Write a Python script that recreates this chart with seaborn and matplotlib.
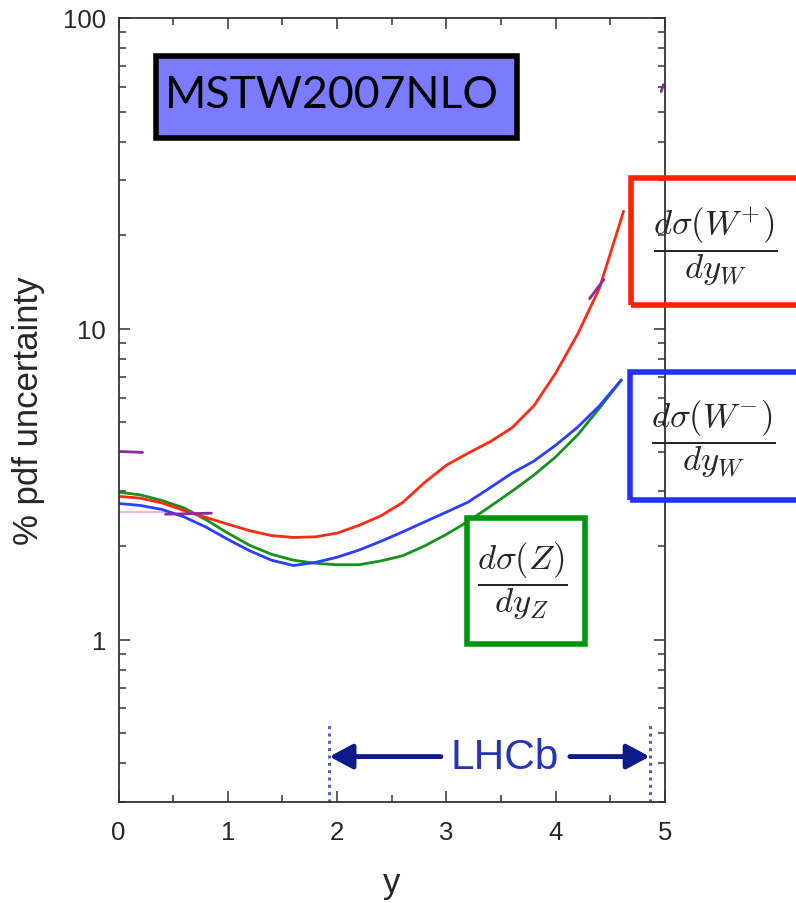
import numpy as np
import pandas as pd
import matplotlib
matplotlib.use("Agg")
import matplotlib.pyplot as plt
from matplotlib.patches import Rectangle
from matplotlib.ticker import FixedLocator, LogLocator, NullFormatter
import seaborn as sns

# Rapidity grid and percentage PDF uncertainties (MSTW2007 NLO)
y_grid = [0.0, 0.2, 0.4, 0.6, 0.8, 1.0, 1.2, 1.4, 1.6, 1.8, 2.0, 2.2,
          2.4, 2.6, 2.8, 3.0, 3.2, 3.4, 3.6, 3.8, 4.0, 4.2, 4.4, 4.6]
w_plus = [2.89, 2.85, 2.75, 2.60, 2.47, 2.35, 2.24, 2.16, 2.13, 2.14, 2.20, 2.33,
          2.50, 2.76, 3.20, 3.64, 3.98, 4.33, 4.80, 5.65, 7.20, 9.60, 13.5, 22.6]
w_minus = [2.74, 2.70, 2.62, 2.48, 2.30, 2.10, 1.93, 1.80, 1.73, 1.77, 1.84, 1.94,
           2.07, 2.22, 2.39, 2.57, 2.77, 3.08, 3.43, 3.75, 4.22, 4.82, 5.65, 6.84]
z_boson = [2.98, 2.92, 2.80, 2.65, 2.43, 2.20, 2.01, 1.88, 1.80, 1.76, 1.74, 1.74,
           1.79, 1.86, 2.00, 2.18, 2.40, 2.68, 3.00, 3.38, 3.87, 4.55, 5.55, 6.84]

# Short leftover traces of an earlier overlay
stray_x = [[0.0, 0.22], [0.43, 0.85], [4.31, 4.44], [4.965, 4.985]]
stray_v = [[4.03, 4.00], [2.53, 2.55], [12.5, 14.4], [58.0, 61.0]]
pale_x = [0.0, 0.47]
pale_v = [2.57, 2.57]

# LHCb acceptance
lhcb_lo, lhcb_hi = 1.93, 4.86
lhcb_level = 0.42

W, H = 796, 904
sns.set_style("ticks")
plt.rcParams["font.family"] = ["Liberation Sans", "DejaVu Sans"]
plt.rcParams["mathtext.fontset"] = "cm"

fig = plt.figure(figsize=(W / 100, H / 100), dpi=100)
ax = fig.add_axes([118.5 / W, 1 - 803 / H, (665 - 118.5) / W, (803 - 19) / H])

df = pd.DataFrame({
    "y": y_grid * 3,
    "unc": w_plus + w_minus + z_boson,
    "process": ["W+"] * len(y_grid) + ["W-"] * len(y_grid) + ["Z"] * len(y_grid),
})
palette = {"W+": "#ff2a14", "W-": "#2b3dff", "Z": "#17901c"}

sns.lineplot(data=pd.DataFrame({"y": pale_x, "unc": pale_v}), x="y", y="unc",
             ax=ax, color="#e6b8e6", lw=1.6)
sns.lineplot(data=df, x="y", y="unc", hue="process", palette=palette,
             hue_order=["Z", "W-", "W+"], ax=ax, lw=2.0, legend=False)
for sx, sv in zip(stray_x, stray_v):
    sns.lineplot(x=sx, y=sv, ax=ax, color="#8e2a9e", lw=2.0)
# the red curve extends a little past the grid
sns.lineplot(x=[4.6, 4.62], y=[22.6, 23.9], ax=ax, color=palette["W+"], lw=2.0)

ax.set_yscale("log")
ax.set_xlim(0, 5)
ax.set_ylim(0.3, 100)
ax.xaxis.set_major_locator(FixedLocator([0, 1, 2, 3, 4, 5]))
ax.xaxis.set_minor_locator(FixedLocator([0.5, 1.5, 2.5, 3.5, 4.5]))
ax.yaxis.set_major_locator(FixedLocator([1, 10, 100]))
ax.yaxis.set_minor_locator(LogLocator(base=10, subs=np.arange(2, 10)))
ax.yaxis.set_minor_formatter(NullFormatter())
ax.set_yticklabels(["1", "10", "100"])

for s in ax.spines.values():
    s.set_color("#333333")
    s.set_linewidth(1.3)
ax.tick_params(which="both", direction="in", top=True, right=True,
               color="#333333", width=1.1)
ax.tick_params(which="major", length=8)
ax.tick_params(which="minor", length=5)
ax.tick_params(axis="x", which="major", labelsize=18.5, pad=13)
ax.tick_params(axis="y", which="major", labelsize=18.5, pad=9)

ax.set_xlabel("y", fontsize=25, labelpad=16)
ax.set_ylabel("% pdf uncertainty", fontsize=25, labelpad=13)

# LHCb acceptance markers
for xv in (lhcb_lo, lhcb_hi):
    ax.plot([xv, xv], [0.3, 0.532], color="#5a5ad0", lw=2.2, ls=(0, (1, 1.4)),
            clip_on=False)
arrow_kw = dict(arrowstyle="-|>,head_length=1.4,head_width=0.75",
                color="#0c1a8a", lw=3.5, shrinkA=0, shrinkB=0)
ax.annotate("", xy=(lhcb_lo, lhcb_level), xytext=(2.95, lhcb_level),
            arrowprops=arrow_kw)
ax.annotate("", xy=(lhcb_hi, lhcb_level), xytext=(4.13, lhcb_level),
            arrowprops=arrow_kw)
ax.text(3.535, lhcb_level, "LHCb", color="#2535b5", fontsize=30.5,
        ha="center", va="center")


def px(x, y):
    return x / W, 1 - y / H


def frame(x0, y0, x1, y1, edge, face="none", lw=4.0):
    fx0, fy1 = px(x0, y0)
    fx1, fy0 = px(x1, y1)
    fig.add_artist(Rectangle((fx0, fy0), fx1 - fx0, fy1 - fy0,
                             transform=fig.transFigure, facecolor=face,
                             edgecolor=edge, lw=lw, clip_on=False))


# PDF set label
frame(156, 57, 517, 139, "black", face="#7b7bff", lw=4.0)
fig.text(*px(165, 96), "MSTW2007NLO", fontsize=32, color="black",
         ha="left", va="center", family=["Lato", "DejaVu Sans"])

# Cross-section labels
frame(631, 179, 820, 306, "#ff2200")
fig.text(*px(715, 247), r"$\dfrac{d\sigma(W^{+})}{dy_W}$", fontsize=25,
         ha="center", va="center")
frame(630, 373, 820, 501, "#2233ff")
fig.text(*px(713, 439), r"$\dfrac{d\sigma(W^{-})}{dy_W}$", fontsize=25,
         ha="center", va="center")
frame(467, 519, 585, 645, "#00980a", face="white")
fig.text(*px(522, 581), r"$\dfrac{d\sigma(Z)}{dy_Z}$", fontsize=25,
         ha="center", va="center")

fig.savefig("out.png", dpi=100)
